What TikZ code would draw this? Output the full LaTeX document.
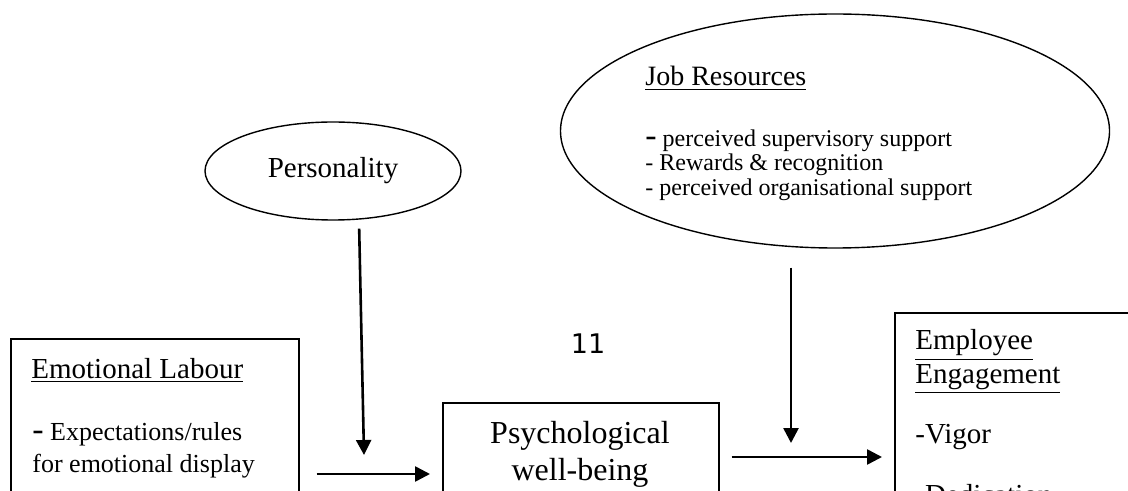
\documentclass[tikz,border=0pt]{standalone}
\usepackage{fontspec}
\setmainfont{Liberation Serif}
\newfontfamily\numfont{DejaVu Sans}
\usetikzlibrary{shapes.geometric, arrows.meta}

\newcommand{\bigdash}{{\fontsize{17}{17}\selectfont -}}

\begin{document}
\begin{tikzpicture}[
  x = 0.5pt, y = -0.5pt,
  frame/.style = {draw, line width = 0.85pt, anchor = north west, inner sep = 0pt},
  oval/.style = {draw, ellipse, line width = 0.7pt, inner sep = 0pt},
  txt/.style = {anchor = base west, inner sep = 0pt, font = \fontsize{14.5}{17}\selectfont},
  midtxt/.style = {txt, font = \fontsize{13}{15}\selectfont},
  smalltxt/.style = {txt, font = \fontsize{12}{14}\selectfont},
  bigtxt/.style = {anchor = base, inner sep = 0pt, font = \fontsize{16}{19}\selectfont},
  link/.style = {line width = 1.3pt, -{Triangle[length = 7.5pt, width = 7.5pt]}}
]
\useasboundingbox (0,0) rectangle (1128,491);
\clip (0,0) rectangle (1128,491);

% moderators
\node[oval, minimum width = 128pt, minimum height = 49pt,
      font = \fontsize{14.5}{17}\selectfont] (pers) at (333,171) {Personality};
\node[oval, minimum width = 274.5pt, minimum height = 117pt] (jobres) at (835,131) {};
\node[txt, font = \fontsize{14}{17}\selectfont] (jobhead) at (645,86) {\underline{Job Resources}};
\node[smalltxt] (job1) at (645,147) {\bigdash{} perceived supervisory support};
\node[smalltxt] (job2) at (645,171) {- Rewards \& recognition};
\node[smalltxt] (job3) at (645,196) {- perceived organisational support};

% page number
\node[anchor = base, inner sep = 0pt, font = \numfont\fontsize{13.5}{16}\selectfont] (pageno) at (588,353) {11};

% main chain
\node[frame, minimum width = 144pt, minimum height = 100pt] (elab) at (10,338) {};
\node[txt] (elabhead) at (31,378) {\underline{Emotional Labour}};
\node[midtxt] (elab1) at (32,440) {\bigdash{} Expectations/rules};
\node[midtxt] (elab2) at (32,472) {for emotional display};

\node[frame, minimum width = 138pt, minimum height = 60pt] (psy) at (442,402) {};
\node[bigtxt] (psy1) at (580,443) {Psychological};
\node[bigtxt] (psy2) at (580,480) {well-being};

\node[frame, minimum width = 125pt, minimum height = 100pt] (emp) at (894,312) {};
\node[txt] (emphead1) at (915,350) {\underline{Employee}};
\node[txt] (emphead2) at (915,383) {\underline{Engagement}};
\node[txt] (emp1) at (915,443) {-Vigor};
\node[txt] (emp2) at (915,504) {-Dedication};

% arrows
\coordinate (row1) at (0,474);
\coordinate (row2) at (0,457);
\coordinate (perstip) at (364,455);
\coordinate (jobtip) at (791,443);

\draw[link, shorten <= 4pt] (pers.south -| 359,0) -- (perstip);
\draw[link, shorten <= 9.5pt] (jobres.south -| jobtip) -- (jobtip);
\draw[link, shorten <= 8.5pt, shorten >= 6pt] (elab.north east |- row1) -- (psy.north west |- row1);
\draw[link, shorten <= 6pt, shorten >= 6pt] (psy.north east |- row2) -- (emp.north west |- row2);
\end{tikzpicture}
\end{document}
